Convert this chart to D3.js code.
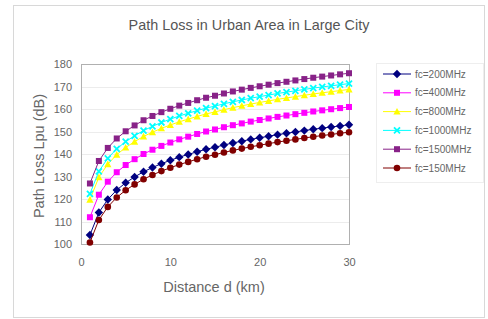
<!DOCTYPE html>
<html>
<head>
<meta charset="utf-8">
<script src="https://cdn.jsdelivr.net/npm/d3@7"></script>
<style>
  body { margin: 0; background: #fff; }
  text { font-family: "Liberation Sans", Arial, sans-serif; }
</style>
</head>
<body>
<div id="chart"></div>
<script>
// distance in km
const distance = d3.range(1, 31);

// path loss (dB)
const seriesNames = ["fc=200MHz", "fc=400MHz", "fc=800MHz", "fc=1000MHz", "fc=1500MHz", "fc=150MHz"];

const loss200 = [104.0, 114.0, 119.8, 124.0, 127.2, 129.8, 132.1, 134.0, 135.7, 137.2, 138.6, 139.8, 141.0, 142.1, 143.0,
  144.0, 144.9, 145.7, 146.5, 147.2, 147.9, 148.6, 149.2, 149.8, 150.4, 151.0, 151.5, 152.0, 152.5, 153.0];
const loss400 = [111.9, 121.9, 127.7, 131.9, 135.1, 137.7, 140.0, 141.9, 143.6, 145.1, 146.5, 147.7, 148.9, 150.0, 150.9,
  151.9, 152.8, 153.6, 154.4, 155.1, 155.8, 156.5, 157.1, 157.7, 158.3, 158.9, 159.4, 159.9, 160.4, 160.9];
const loss800 = [119.7, 129.7, 135.5, 139.7, 142.9, 145.5, 147.8, 149.7, 151.4, 152.9, 154.3, 155.5, 156.7, 157.8, 158.7,
  159.7, 160.6, 161.4, 162.2, 162.9, 163.6, 164.3, 164.9, 165.5, 166.1, 166.7, 167.2, 167.7, 168.2, 168.7];
const loss1000 = [122.3, 132.3, 138.1, 142.3, 145.5, 148.1, 150.4, 152.3, 154.0, 155.5, 156.9, 158.1, 159.3, 160.4, 161.3,
  162.3, 163.2, 164.0, 164.8, 165.5, 166.2, 166.9, 167.5, 168.1, 168.7, 169.3, 169.8, 170.3, 170.8, 171.3];
const loss1500 = [126.9, 136.9, 142.7, 146.9, 150.1, 152.7, 155.0, 156.9, 158.6, 160.1, 161.5, 162.7, 163.9, 165.0, 165.9,
  166.9, 167.8, 168.6, 169.4, 170.1, 170.8, 171.5, 172.1, 172.7, 173.3, 173.9, 174.4, 174.9, 175.4, 175.9];
const loss150 = [100.7, 110.7, 116.5, 120.7, 123.9, 126.5, 128.8, 130.7, 132.4, 133.9, 135.3, 136.5, 137.7, 138.8, 139.7,
  140.7, 141.6, 142.4, 143.2, 143.9, 144.6, 145.3, 145.9, 146.5, 147.1, 147.7, 148.2, 148.7, 149.2, 149.7];

const xTicks = [0, 10, 20, 30];
const yTicks = [100, 110, 120, 130, 140, 150, 160, 170, 180];

const allLoss = [loss200, loss400, loss800, loss1000, loss1500, loss150];
const colors = ["#000080", "#ff00ff", "#ffff00", "#00ffff", "#882288", "#800000"];
const markers = ["diamond", "square", "triangle", "cross", "square", "circle"];

const width = 488;
const height = 319;

const svg = d3.select("#chart")
  .append("svg")
  .attr("width", width)
  .attr("height", height);

// outer chart frame
svg.append("rect")
  .attr("x", 13.5).attr("y", 5.5)
  .attr("width", 471).attr("height", 312)
  .attr("fill", "#fff")
  .attr("stroke", "#d8d8d8");

const plot = { left: 81, top: 64, right: 349, bottom: 244 };

const x = d3.scaleLinear().domain([0, 30]).range([plot.left, plot.right]);
const y = d3.scaleLinear().domain([100, 180]).range([plot.bottom, plot.top]);

// gridlines
svg.append("g")
  .selectAll("line")
  .data(yTicks)
  .join("line")
  .attr("x1", plot.left).attr("x2", plot.right)
  .attr("y1", d => Math.round(y(d)) + 0.5)
  .attr("y2", d => Math.round(y(d)) + 0.5)
  .attr("stroke", "#ececec");

// plot frame
svg.append("rect")
  .attr("x", plot.left + 0.5).attr("y", plot.top + 0.5)
  .attr("width", plot.right - plot.left).attr("height", plot.bottom - plot.top)
  .attr("fill", "none")
  .attr("stroke", "#b0b0b0");

// axes (labels only, Excel style)
const xAxis = d3.axisBottom(x).tickValues(xTicks).tickSize(0).tickPadding(14);
const yAxis = d3.axisLeft(y).tickValues(yTicks).tickSize(0).tickPadding(9);

svg.append("g")
  .attr("transform", `translate(0,${plot.bottom})`)
  .call(xAxis)
  .call(g => g.select(".domain").remove())
  .selectAll("text")
  .attr("font-size", 11).attr("fill", "#666")
  .attr("font-family", "Liberation Sans, Arial, sans-serif");

svg.append("g")
  .attr("transform", `translate(${plot.left},0)`)
  .call(yAxis)
  .call(g => g.select(".domain").remove())
  .selectAll("text")
  .attr("font-size", 11).attr("fill", "#666")
  .attr("font-family", "Liberation Sans, Arial, sans-serif");

// titles
svg.append("text")
  .attr("x", 249).attr("y", 30)
  .attr("text-anchor", "middle")
  .attr("font-size", 14.4).attr("fill", "#555")
  .text("Path Loss in Urban Area in Large City");

svg.append("text")
  .attr("x", 214).attr("y", 292)
  .attr("text-anchor", "middle")
  .attr("font-size", 14.5).attr("fill", "#666")
  .text("Distance d (km)");

svg.append("text")
  .attr("transform", `translate(44,156) rotate(-90)`)
  .attr("text-anchor", "middle")
  .attr("font-size", 14.5).attr("fill", "#666")
  .text("Path Loss Lpu (dB)");

function drawMarker(sel, type, color, size) {
  const s = size;
  if (type === "circle") {
    sel.append("circle").attr("r", s * 0.55).attr("fill", color);
  } else if (type === "square") {
    sel.append("rect").attr("x", -s / 2).attr("y", -s / 2).attr("width", s).attr("height", s).attr("fill", color);
  } else if (type === "diamond") {
    sel.append("path").attr("d", `M0,${-s * 0.7}L${s * 0.7},0L0,${s * 0.7}L${-s * 0.7},0Z`).attr("fill", color);
  } else if (type === "triangle") {
    sel.append("path").attr("d", `M0,${-s * 0.6}L${s * 0.6},${s * 0.5}L${-s * 0.6},${s * 0.5}Z`).attr("fill", color);
  } else if (type === "cross") {
    sel.append("path").attr("d", `M${-s / 2},${-s / 2}L${s / 2},${s / 2}M${s / 2},${-s / 2}L${-s / 2},${s / 2}`)
      .attr("stroke", color).attr("stroke-width", 1.8);
  }
}

const line = d3.line()
  .x((d, i) => x(distance[i]))
  .y(d => y(d));

allLoss.forEach((values, k) => {
  const g = svg.append("g");
  g.append("path")
    .datum(values)
    .attr("d", line)
    .attr("fill", "none")
    .attr("stroke", colors[k])
    .attr("stroke-width", 1);
  values.forEach((v, i) => {
    const m = g.append("g").attr("transform", `translate(${x(distance[i])},${y(v)})`);
    drawMarker(m, markers[k], colors[k], 6);
  });
});

// legend
const legend = svg.append("g");
legend.append("rect")
  .attr("x", 376.5).attr("y", 63.5)
  .attr("width", 107).attr("height", 119)
  .attr("fill", "#fff")
  .attr("stroke", "#eeeeee");

seriesNames.forEach((name, k) => {
  const ly = 74 + k * 18.8;
  const item = legend.append("g").attr("transform", `translate(0,${ly})`);
  item.append("line")
    .attr("x1", 383).attr("x2", 411)
    .attr("stroke", colors[k]).attr("stroke-width", 1);
  drawMarker(item.append("g").attr("transform", "translate(397,0)"), markers[k], colors[k], 6);
  item.append("text")
    .attr("x", 415).attr("y", 3.5)
    .attr("font-size", 10).attr("fill", "#666")
    .text(name);
});
</script>
</body>
</html>
